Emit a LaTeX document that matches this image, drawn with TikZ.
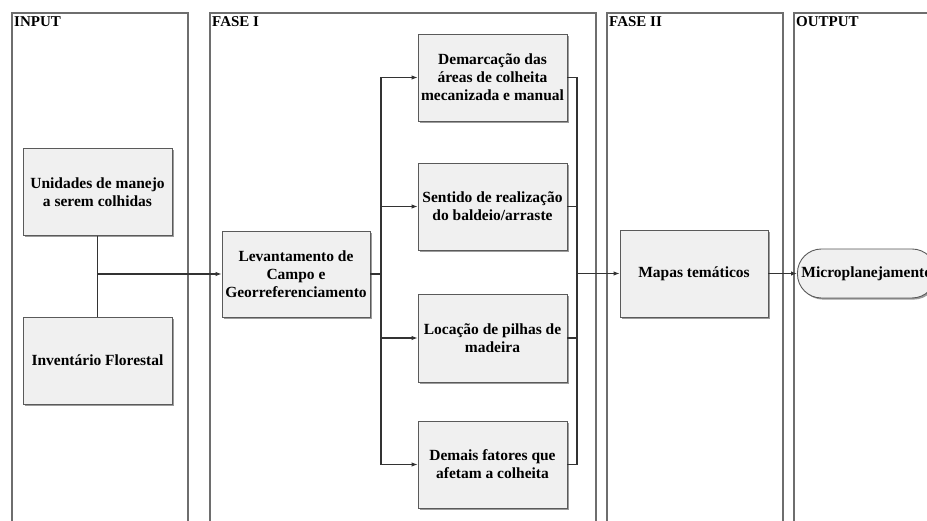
\documentclass[tikz,border=0pt]{standalone}
\usepackage{fontspec}
\setmainfont{Liberation Serif}
\usetikzlibrary{arrows.meta,shadows}
\definecolor{boxfill}{HTML}{F0F0F0}
\definecolor{boxdraw}{HTML}{5A5A5A}
\definecolor{lanedraw}{HTML}{6E6E6E}
\definecolor{linecol}{HTML}{333333}
\tikzset{
  lane/.style={draw=lanedraw, line width=1.4pt},
  lanehead/.style={anchor=north west, inner sep=0pt, font=\fontsize{15}{17}\selectfont\bfseries},
  procbox/.style={draw=boxdraw, fill=boxfill, line width=0.9pt,
    minimum width=149pt, minimum height=87pt, align=center, inner sep=1pt,
    font=\fontsize{15.5}{18}\selectfont\bfseries,
    drop shadow={shadow xshift=1.6pt, shadow yshift=-1.6pt, fill=black!55, opacity=0.7}},
  termbox/.style={draw=boxdraw, fill=boxfill, line width=0.9pt, rounded corners=24pt,
    minimum height=49pt, inner xsep=4pt, inner ysep=1pt, anchor=west,
    font=\fontsize{15.5}{18}\selectfont\bfseries,
    drop shadow={shadow xshift=1.6pt, shadow yshift=-1.6pt, fill=black!55, opacity=0.7}},
  conn/.style={draw=linecol, line width=1.1pt},
  arr/.style={conn, -{Latex[length=6pt,width=4.5pt]}},
}
\begin{document}
\begin{tikzpicture}[x=1pt,y=-1pt]
\clip (0,0) rectangle (927,521);
\fill[white] (0,0) rectangle (927,521);
% lanes
\draw[lane] (12,530) -- (12,13) -- (188,13) -- (188,530);
\draw[lane] (210,530) -- (210,13) -- (596,13) -- (596,530);
\draw[lane] (607,530) -- (607,13) -- (783,13) -- (783,530);
\draw[lane] (794,530) -- (794,13) -- (960,13);
\node[lanehead] (hin) at (14,16) {INPUT};
\node[lanehead] (hf1) at (212,16) {FASE I};
\node[lanehead] (hf2) at (609,16) {FASE II};
\node[lanehead] (hout) at (796,16) {OUTPUT};
% boxes
\node[procbox] (uni) at (97.5,192) {Unidades de manejo\\a serem colhidas};
\node[procbox] (inv) at (97.5,360.5) {Inventário Florestal};
\node[procbox, minimum width=148pt, minimum height=86pt] (lev) at (296,274) {Levantamento de\\Campo e\\Georreferenciamento};
\node[procbox] (dem) at (492.5,77.5) {Demarcação das\\áreas de colheita\\mecanizada e manual};
\node[procbox] (sen) at (492.5,206.5) {Sentido de realização\\do baldeio/arraste};
\node[procbox, minimum height=88pt] (loc) at (492.5,338) {Locação de pilhas de\\madeira};
\node[procbox] (dfa) at (492.5,464.5) {Demais fatores que\\afetam a colheita};
\node[procbox, minimum width=148pt] (map) at (694,273.5) {Mapas temáticos};
\node[termbox] (mic) at (797,273.5) {Microplanejamento};
% junctions
\coordinate (j1) at (97.5,274);
\coordinate (b1) at (381,274);
\coordinate (b1t) at (381,77.5);
\coordinate (b1b) at (381,464.5);
\coordinate (b2) at (577,273.5);
\coordinate (b2t) at (577,77.5);
\coordinate (b2b) at (577,464.5);
% connectors
\draw[conn] (uni.south) -- (inv.north);
\draw[arr] (j1) -- (lev.west);
\draw[conn] (lev.east) -- (b1);
\draw[conn] (b1t) -- (b1b);
\draw[arr] (b1t) -- (dem.west);
\draw[arr] (sen.west -| b1) -- (sen.west);
\draw[arr] (loc.west -| b1) -- (loc.west);
\draw[arr] (b1b) -- (dfa.west);
\draw[conn] (dem.east) -- (b2t);
\draw[conn] (sen.east) -- (sen.east -| b2);
\draw[conn] (loc.east) -- (loc.east -| b2);
\draw[conn] (dfa.east) -- (b2b);
\draw[conn] (b2t) -- (b2b);
\draw[arr] (b2) -- (map.west);
\draw[arr] (map.east) -- (mic.west);
\end{tikzpicture}
\end{document}
